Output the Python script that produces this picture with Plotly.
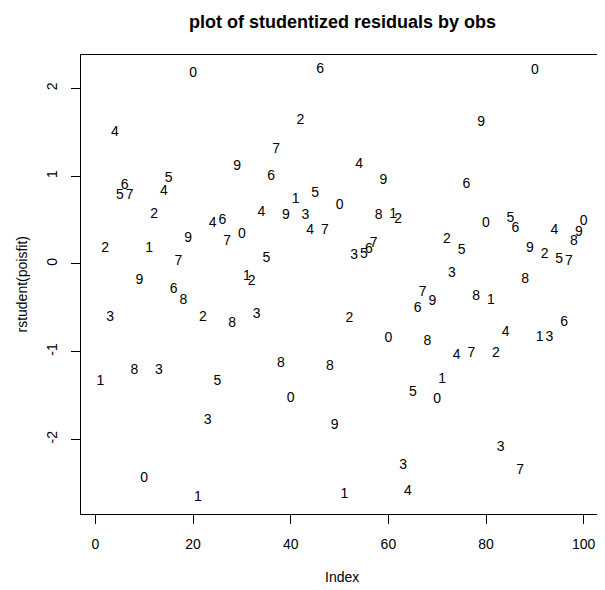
import plotly.graph_objects as go

# observation index
obs_index = list(range(1, 101))

# studentized residuals
rstudent_vals = [
    -1.34, 0.17, -0.61, 1.50, 0.78, 0.89, 0.78, -1.22, -0.19, -2.45,
    0.17, 0.56, -1.22, 0.83, 0.97, -0.29, 0.03, -0.42, 0.29, 2.17,
    -2.66, -0.61, -1.78, 0.46, -1.34, 0.49, 0.25, -0.68, 1.11, 0.34,
    -0.14, -0.20, -0.58, 0.58, 0.06, 1.00, 1.30, -1.14, 0.55, -1.53,
    0.73, 1.63, 0.55, 0.375, 0.80, 2.22, 0.375, -1.17, -1.84, 0.66,
    -2.63, -0.62, 0.10, 1.13, 0.11, 0.16, 0.23, 0.55, 0.95, -0.85,
    0.56, 0.50, -2.30, -2.59, -1.47, -0.51, -0.33, -0.88, -0.43, -1.545,
    -1.32, 0.28, -0.11, -1.045, 0.15, 0.90, -1.02, -0.37, 1.61, 0.46,
    -0.42, -1.02, -2.09, -0.78, 0.52, 0.40, -2.35, -0.18, 0.18, 2.20,
    -0.84, 0.11, -0.84, 0.375, 0.05, -0.67, 0.03, 0.26, 0.36, 0.48,
]

# plotted text labels
point_labels = [
    "1", "2", "3", "4", "5", "6", "7", "8", "9", "0",
    "1", "2", "3", "4", "5", "6", "7", "8", "9", "0",
    "1", "2", "3", "4", "5", "6", "7", "8", "9", "0",
    "1", "2", "3", "4", "5", "6", "7", "8", "9", "0",
    "1", "2", "3", "4", "5", "6", "7", "8", "9", "0",
    "1", "2", "3", "4", "5", "6", "7", "8", "9", "0",
    "1", "2", "3", "4", "5", "6", "7", "8", "9", "0",
    "1", "2", "3", "4", "5", "6", "7", "8", "9", "0",
    "1", "2", "3", "4", "5", "6", "7", "8", "9", "0",
    "1", "2", "3", "4", "5", "6", "7", "8", "9", "0",
]

x_ticks = [0, 20, 40, 60, 80, 100]
y_ticks = [-2, -1, 0, 1, 2]

FONT = "Liberation Sans, Arial, Helvetica, sans-serif"

fig = go.Figure()
fig.add_trace(go.Scatter(
    x=obs_index, y=rstudent_vals, text=point_labels,
    mode="text", textposition="middle center",
    textfont=dict(family=FONT, size=14, color="#000000"),
    hoverinfo="skip", showlegend=False,
))

axis_common = dict(
    showline=True, linecolor="#000000", linewidth=1, mirror=True,
    showgrid=False, zeroline=False,
    ticks="outside", ticklen=9, tickcolor="#000000", tickwidth=1,
    tickfont=dict(family=FONT, size=14, color="#000000"),
)

# the page body adds an 8px offset; the figure is sized to compensate
fig.update_layout(
    width=597, height=582,
    margin=dict(l=73, r=2, t=47, b=76),
    paper_bgcolor="#ffffff", plot_bgcolor="#ffffff",
    xaxis=dict(range=[-2.96, 103.96], tickvals=x_ticks,
               ticktext=[str(v) for v in x_ticks], ticklabelstandoff=8,
               **axis_common),
    yaxis=dict(range=[-2.85, 2.38], tickvals=y_ticks,
               ticktext=[str(v) for v in y_ticks], tickangle=-90,
               ticklabelstandoff=8, **axis_common),
    annotations=[
        dict(text="<b>plot of studentized residuals by obs</b>",
             xref="paper", yref="paper", x=0.5, y=1, yshift=33,
             xanchor="center", yanchor="middle", showarrow=False,
             font=dict(family=FONT, size=18, color="#000000")),
        dict(text="Index", xref="paper", yref="paper", x=0.5, y=0,
             yshift=-63, xanchor="center", yanchor="middle", showarrow=False,
             font=dict(family=FONT, size=14, color="#000000")),
        dict(text="rstudent(poisfit)", xref="paper", yref="paper", x=0,
             y=0.5, xshift=-60, xanchor="center", yanchor="middle",
             textangle=-90, showarrow=False,
             font=dict(family=FONT, size=14, color="#000000")),
    ],
)

fig.write_html("out.html")
